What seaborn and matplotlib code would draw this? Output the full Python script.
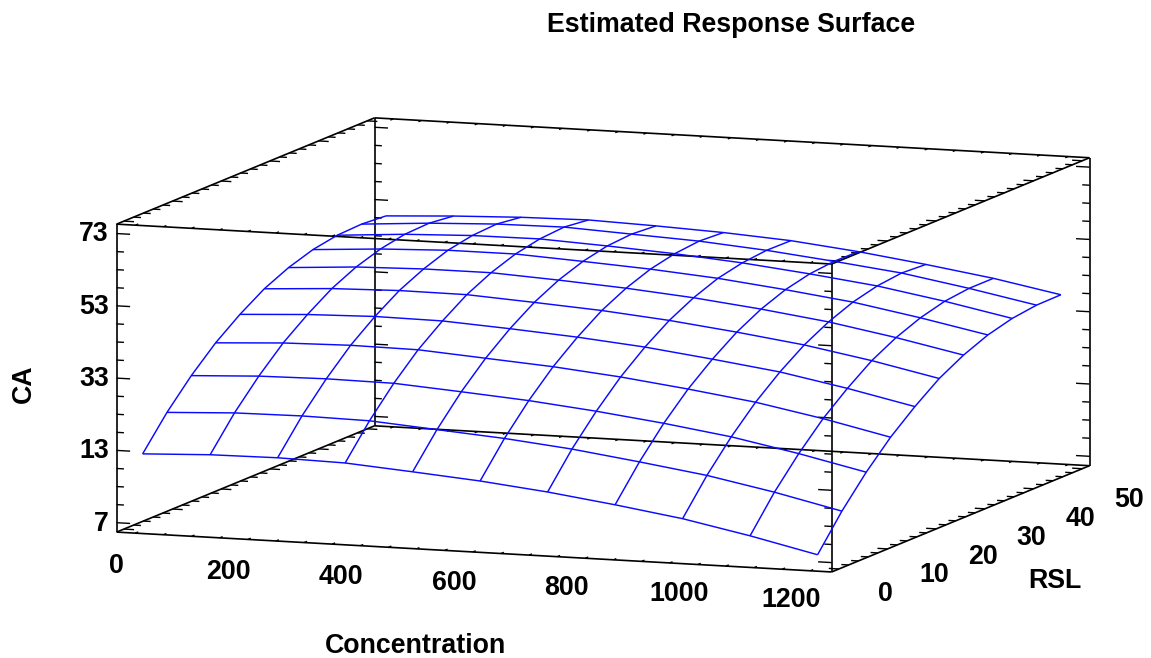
import numpy as np
import matplotlib
matplotlib.use('Agg')
import matplotlib.pyplot as plt
from mpl_toolkits.mplot3d import proj3d
import seaborn as sns

sns.set_theme(style='white')
plt.rcParams['font.family'] = ['Liberation Sans', 'DejaVu Sans']

# surface grid
concentration = [0, 120, 240, 360, 480, 600, 720, 840, 960, 1080, 1200]
rsl = [0, 5, 10, 15, 20, 25, 30, 35, 40, 45, 50]
ca = [
    [11.5, 12.3, 12.5, 12.1, 10.7, 9.2, 7.2, 4.7, 1.9, -1.8, -6.0],
    [20.2, 21.1, 21.3, 21.0, 19.6, 18.2, 16.3, 13.8, 11.1, 7.5, 3.3],
    [27.6, 28.5, 28.8, 28.6, 27.3, 25.9, 24.0, 21.7, 19.0, 15.4, 11.3],
    [33.9, 34.9, 35.3, 35.1, 33.8, 32.5, 30.7, 28.4, 25.8, 22.3, 18.2],
    [39.0, 40.0, 40.5, 40.3, 39.2, 37.9, 36.2, 33.9, 31.4, 27.9, 23.9],
    [43.3, 44.4, 44.9, 44.8, 43.7, 42.5, 40.8, 38.6, 36.1, 32.8, 28.9],
    [46.4, 47.6, 48.1, 48.1, 47.1, 45.9, 44.3, 42.2, 39.7, 36.4, 32.6],
    [48.6, 49.8, 50.5, 50.5, 49.5, 48.4, 46.9, 44.8, 42.4, 39.1, 35.4],
    [49.8, 51.1, 51.8, 51.9, 51.0, 49.9, 48.4, 46.4, 44.1, 40.9, 37.2],
    [50.1, 51.4, 52.2, 52.4, 51.5, 50.6, 49.1, 47.1, 44.9, 41.7, 38.1],
    [49.6, 50.6, 51.3, 51.6, 51.0, 50.2, 49.0, 47.0, 44.5, 41.7, 38.2],
]

x_ticks = [0, 200, 400, 600, 800, 1000, 1200]
y_ticks = [0, 10, 20, 30, 40, 50]
z_ticks = [-7, 13, 33, 53, 73]
z_labels = ['7', '13', '33', '53', '73']

xlim = (-33.3, 1238)
ylim = (-1.5, 51.5)
zlim = (-9.6, 75.6)

W, H = 1151, 658
fig = plt.figure(figsize=(W / 100, H / 100), dpi=100)
ax = fig.add_axes([49 / W, -241 / H, 1079 / W, 1079 / H], projection='3d',
                  proj_type='ortho', computed_zorder=False)
ax.view_init(elev=8.72, azim=-69.8)
ax.set_box_aspect((762, 747, 311.6))
ax.set_xlim(*xlim)
ax.set_ylim(*ylim)
ax.set_zlim(*zlim)
ax.set_xticks([])
ax.set_yticks([])
ax.set_zticks([])
ax.set_axis_off()

black = dict(color='black', lw=1.2, solid_capstyle='butt')
thin = dict(color='black', lw=1.0, solid_capstyle='butt')

# box edges
for y in ylim:
    for z in zlim:
        ax.plot(xlim, [y, y], [z, z], **black)
for x in xlim:
    for z in zlim:
        ax.plot([x, x], ylim, [z, z], **black)
for x in xlim:
    for y in ylim:
        ax.plot([x, x], [y, y], zlim, **black)

# ticks on the vertical edges
for z in np.arange(-7, 76, 5):
    n = 24 if z in z_ticks else 13
    for x, d in [(xlim[0], 1), (xlim[1], -1)]:
        for y in ylim:
            ax.plot([x, x + d * n], [y, y], [z, z], **thin)

# ticks along the RSL edges
for y in range(0, 51, 2):
    n = 18 if y in y_ticks else 13
    for z in zlim:
        ax.plot([xlim[0], xlim[0] + n], [y, y], [z, z], **thin)
        ax.plot([xlim[1], xlim[1] - n], [y, y], [z, z], **thin)

# ticks along the concentration edges
for x in range(0, 1201, 50):
    for z in zlim:
        ax.plot([x, x], [ylim[0], ylim[0] + 0.6], [z, z], **thin)
        ax.plot([x, x], [ylim[1], ylim[1] - 0.6], [z, z], **thin)

X, Y = np.meshgrid(concentration, rsl)
ax.plot_wireframe(X, Y, np.array(ca), color='#0a0aff', lw=1.05)

font = dict(fontsize=19.3, fontweight='bold', color='black')
proj = ax.get_proj()


def tick_label(x, y, z, s, ha='center'):
    px, py, _ = proj3d.proj_transform(x, y, z, proj)
    ax.text2D(px, py, s, transform=ax.transData, ha=ha, va='center', **font)


for t in x_ticks:
    tick_label(t, ylim[0] - 3.9, zlim[0] - 7.0 + t * 0.0010, str(t))
for t in y_ticks:
    tick_label(xlim[1] + 83, t, zlim[0] - 6.3 - t * 0.033, str(t))
for t, s in zip(z_ticks, z_labels):
    tick_label(xlim[0] - 14, ylim[0], t - 0.35, s, ha='right')

fig.text(731 / W, 1 - 25 / H, 'Estimated Response Surface', ha='center', va='center', **font)
fig.text(415 / W, 1 - 646 / H, 'Concentration', ha='center', va='center', **font)
fig.text(1055 / W, 1 - 581 / H, 'RSL', ha='center', va='center', **font)
fig.text(24 / W, 1 - 384 / H, 'CA', ha='center', va='center', rotation=90, **font)

fig.savefig('out.png', dpi=100)
